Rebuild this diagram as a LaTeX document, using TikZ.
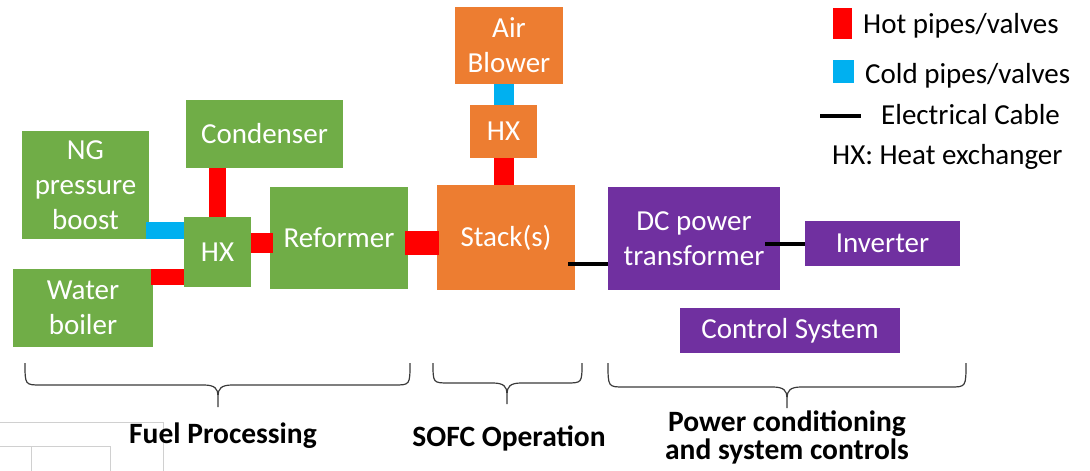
\documentclass[tikz,border=0pt]{standalone}
\usepackage{fontspec}
\setmainfont{Carlito}
\usetikzlibrary{calc}

\definecolor{boxgreen}{HTML}{70AD47}
\definecolor{boxorange}{HTML}{ED7D31}
\definecolor{boxpurple}{HTML}{7030A0}
\definecolor{hotred}{HTML}{FF0000}
\definecolor{coldblue}{HTML}{00B0F0}
\definecolor{tablegray}{HTML}{D0D0D0}
\definecolor{bracegray}{HTML}{3A3A3A}

\tikzset{
  unitbox/.style={text=white, align=center, inner sep=0pt},
  greenbox/.style={unitbox, fill=boxgreen},
  orangebox/.style={unitbox, fill=boxorange},
  purplebox/.style={unitbox, fill=boxpurple},
  hotpipe/.style={draw=hotred},
  coldpipe/.style={draw=coldblue},
  cable/.style={draw=black, line width=4},
  bracestyle/.style={draw=bracegray, line width=1.2},
  grouplabel/.style={font=\fontsize{29.5}{28}\selectfont\bfseries, align=center, anchor=base}
}

% left x, right x, tip x, top y, line y, tip y
\newcommand{\groupbrace}[6]{%
  \draw[bracestyle] (#1,#4) .. controls (#1,#5) .. (#1+16,#5) -- (#3-14,#5)
    .. controls (#3-3,#5) and (#3,#5+4) .. (#3,#5+11) -- (#3,#6) -- (#3,#5+11)
    .. controls (#3,#5+4) and (#3+3,#5) .. (#3+14,#5) -- (#2-16,#5)
    .. controls (#2,#5) .. (#2,#4);}

\begin{document}
\begin{tikzpicture}[x=1pt,y=-1pt,every node/.style={inner sep=0pt,font=\fontsize{29}{35}\selectfont}]
\useasboundingbox (0,0) rectangle (1090,471);
%
% faint table lines, bottom left
\draw[tablegray] (0,422) -- (163,422) -- (163,471);
\draw[tablegray] (0,446) -- (110,446) -- (110,471);
\draw[tablegray] (31,446) -- (31,471);
%
% fuel processing
\node[greenbox, minimum width=127, minimum height=108] (ng) at (85.5,185) {NG\\pressure\\boost};
\node[greenbox, minimum width=140, minimum height=78] (boiler) at (83,308) {Water\\boiler};
\node[greenbox, minimum width=157, minimum height=68] (cond) at (264.5,134) {Condenser};
\node[greenbox, minimum width=67, minimum height=70] (hxf) at (217.5,252) {HX};
\node[greenbox, minimum width=138, minimum height=102] (ref) at (339,238) {Reformer};
%
% SOFC
\node[orangebox, minimum width=108, minimum height=77] (blower) at (509,45.5) {Air\\Blower};
\node[orangebox, minimum width=67, minimum height=53] (hxs) at (503.5,131.5) {HX};
\node[orangebox, minimum width=138, minimum height=105] (stack) at (506,237.5) {Stack(s)};
%
% power conditioning
\node[purplebox, minimum width=172, minimum height=103] (dc) at (694,238.5) {DC power\\transformer};
\node[purplebox, minimum width=155, minimum height=45] (inv) at (882.5,243.5) {Inverter};
\node[purplebox, minimum width=220, minimum height=45] (ctrl) at (790,330.5) {Control System};
%
% pipes and cables
\draw[coldpipe, line width=17] ([xshift=-3pt,yshift=8.5pt]ng.south east) -- ([yshift=8.5pt]ng.south east -| hxf.west);
\draw[hotpipe, line width=16] ([xshift=-2pt,yshift=-8pt]boiler.north east) -- ([yshift=-8pt]boiler.north east -| hxf.west);
\draw[hotpipe, line width=17] (hxf.north) -- (hxf.north |- cond.south);
\draw[hotpipe, line width=20] ([yshift=9pt]hxf.east) -- ([xshift=3pt,yshift=9pt]hxf.east -| ref.west);
\draw[hotpipe, line width=24] ([xshift=-3pt,yshift=-5pt]ref.east) -- ([xshift=2pt,yshift=-5pt]ref.east -| stack.west);
\draw[coldpipe, line width=20] (hxs.north) -- (hxs.north |- blower.south);
\draw[hotpipe, line width=20] (hxs.south) -- (hxs.south |- stack.north);
\draw[cable] ([xshift=-7pt,yshift=-26.5pt]stack.east) -- ([yshift=-26.5pt]stack.east -| dc.west);
\draw[cable] ([xshift=-15pt]dc.east |- inv.west) -- (inv.west);
%
% legend
\fill[hotred] (833,8) rectangle (852,39);
\fill[coldblue] (833,60) rectangle (854,83);
\draw[cable] (820,116) -- (861,116);
\node[anchor=base west] (lghot) at (863,33) {Hot pipes/valves};
\node[anchor=base west] (lgcold) at (865,83) {Cold pipes/valves};
\node[anchor=base west] (lgcable) at (881,124) {Electrical Cable};
\node[anchor=base west] (lghx) at (832,164) {HX: Heat exchanger};
%
% braces and group labels
\groupbrace{25}{410}{218}{363}{385}{407}
\groupbrace{433}{582}{507}{363}{383}{404}
\groupbrace{608}{966}{787}{363}{387}{408}
\node[grouplabel] (fuel) at (223,443) {Fuel Processing};
\node[grouplabel] (sofc) at (509,446) {SOFC Operation};
\node[grouplabel] (power) at (787,459) {Power conditioning\\and system controls};
\end{tikzpicture}
\end{document}
